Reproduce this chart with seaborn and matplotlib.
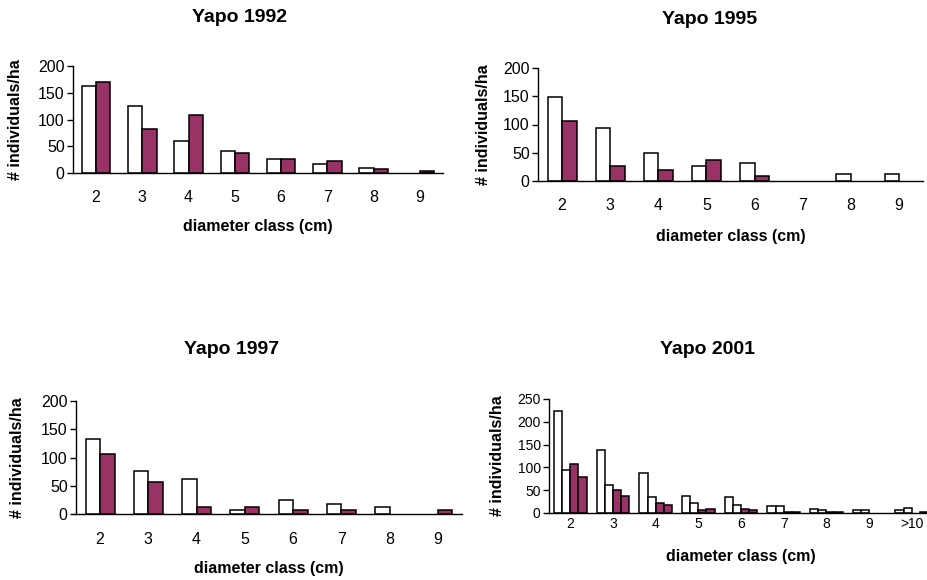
import numpy as np
import pandas as pd
import matplotlib
matplotlib.use("Agg")
import matplotlib.pyplot as plt
import seaborn as sns

# Diameter classes (cm)
classes_8 = ["2", "3", "4", "5", "6", "7", "8", "9"]
classes_9 = ["2", "3", "4", "5", "6", "7", "8", "9", ">10"]

# Yapo 1992 (individuals/ha)
y1992_a = [163, 125, 60, 42, 27, 17, 10, 0]
y1992_b = [170, 83, 109, 38, 27, 22, 8, 3]

# Yapo 1995
y1995_a = [148, 93, 49, 26, 31, 0, 12, 12]
y1995_b = [107, 26, 19, 38, 8, 0, 0, 0]

# Yapo 1997
y1997_a = [132, 76, 62, 7, 25, 18, 12, 0]
y1997_b = [106, 56, 12, 12, 7, 7, 0, 7]

# Yapo 2001
y2001_a = [223, 138, 87, 37, 34, 15, 8, 6, 6]
y2001_b = [95, 62, 34, 23, 17, 15, 6, 6, 11]
y2001_c = [107, 50, 23, 6, 9, 3, 3, 0, 0]
y2001_d = [79, 37, 18, 9, 6, 3, 3, 0, 3]

WHITE = "#ffffff"
PLUM = "#993366"

sns.set_style("white")
plt.rcParams["font.family"] = ["Liberation Sans", "DejaVu Sans"]
plt.rcParams["text.color"] = "black"
plt.rcParams["axes.labelcolor"] = "black"
plt.rcParams["xtick.color"] = "black"
plt.rcParams["ytick.color"] = "black"

W, H = 927, 580
fig = plt.figure(figsize=(W / 100, H / 100), dpi=100)


def px_axes(left, top, right, bottom):
    return fig.add_axes([left / W, 1 - bottom / H, (right - left) / W, (bottom - top) / H])


def panel(rect, title, title_xy, classes, series, colors, width, ymax,
          tick_fs, xlab_y, ylab_x, ticklab_y):
    ax = px_axes(*rect)
    names = [f"s{i}" for i in range(len(series))]
    frames = [pd.DataFrame({"diameter": classes, "density": vals, "group": nm})
              for nm, vals in zip(names, series)]
    df = pd.concat(frames, ignore_index=True)
    sns.barplot(data=df, x="diameter", y="density", hue="group",
                order=classes, hue_order=names, palette=colors,
                width=width, edgecolor="black", linewidth=1.1,
                legend=False, ax=ax, saturation=1)
    # empty classes have no visible bar
    for p in ax.patches:
        if p.get_height() == 0:
            p.set_visible(False)
    n = len(classes)
    ax.set_xlim(-0.5, n - 0.5)
    ax.set_ylim(0, ymax)
    ax.set_yticks(np.arange(0, ymax + 1, 50))
    ax.set_xticks(np.arange(-0.5, n, 1.0), minor=True)
    ax.tick_params(axis="x", which="major", length=0, labelsize=tick_fs, pad=0)
    ax.tick_params(axis="x", which="minor", length=4, width=1, direction="out",
                   color="black")
    ax.tick_params(axis="y", which="major", length=4, width=1, direction="out",
                   color="black", labelsize=tick_fs, pad=2, left=True)
    bottom = rect[3]
    top = rect[1]
    off = (ticklab_y - bottom) / (bottom - top)
    for lab in ax.get_xticklabels():
        lab.set_verticalalignment("center")
        lab.set_y(-off)
    for side in ("top", "right"):
        ax.spines[side].set_visible(False)
    for side in ("left", "bottom"):
        ax.spines[side].set_color("black")
        ax.spines[side].set_linewidth(1.0)
    ax.set_xlabel("diameter class (cm)", fontsize=11.5, fontweight="bold")
    ax.set_ylabel("# individuals/ha", fontsize=11.5, fontweight="bold")
    ax.xaxis.set_label_coords(0.5, 1 - (xlab_y - top) / (bottom - top))
    ax.xaxis.label.set_verticalalignment("center")
    ax.yaxis.set_label_coords((ylab_x - rect[0]) / (rect[2] - rect[0]), 0.5)
    ax.yaxis.label.set_verticalalignment("center")
    fig.text(title_xy[0] / W, 1 - title_xy[1] / H, title, fontsize=14,
             fontweight="bold", ha="center", va="center")
    return ax


panel((73, 66, 443, 173), "Yapo 1992", (240, 17), classes_8,
      [y1992_a, y1992_b], [WHITE, PLUM], 0.62, 200, 11.5, 226, 16, 197)
panel((538, 68, 923, 181), "Yapo 1995", (710, 20), classes_8,
      [y1995_a, y1995_b], [WHITE, PLUM], 0.6, 200, 11.5, 236, 483, 206)
panel((76, 401, 462, 514), "Yapo 1997", (232, 350), classes_8,
      [y1997_a, y1997_b], [WHITE, PLUM], 0.6, 200, 11.5, 568, 18, 539)
panel((549, 399, 933, 513), "Yapo 2001", (707, 349), classes_9,
      [y2001_a, y2001_b, y2001_c, y2001_d], [WHITE, WHITE, PLUM, PLUM],
      0.76, 250, 10, 557, 497, 524)

fig.savefig("out.png", dpi=100, facecolor="white")
